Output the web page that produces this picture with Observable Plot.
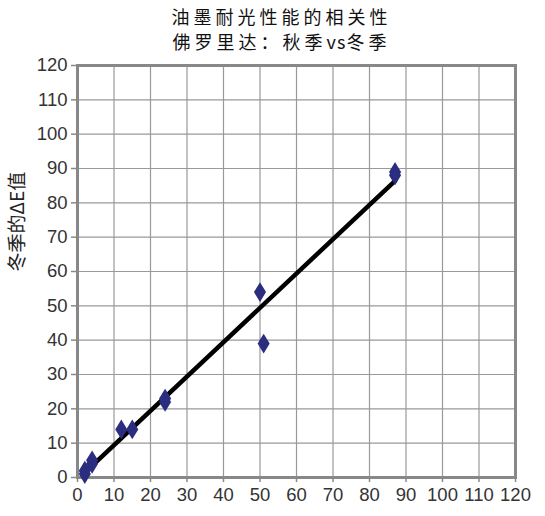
<!DOCTYPE html>
<html>
<head>
<meta charset="utf-8">
<script src="https://cdn.jsdelivr.net/npm/d3@7"></script>
<script src="https://cdn.jsdelivr.net/npm/@observablehq/plot@0.6"></script>
<style>
  body { margin: 0; background: #fff; font-family: "Liberation Sans", "Noto Sans CJK SC", sans-serif; }
  #title { width: 545px; box-sizing: border-box; padding-left: 18px; padding-top: 4px; height: 55px;
           text-align: center; font-size: 18px; line-height: 25px; letter-spacing: 4px; color: #111;
           font-family: "Noto Sans CJK SC", "Liberation Sans", sans-serif; }
  #title div { height: 25px; }
  #title .lat { letter-spacing: 1px; }
</style>
</head>
<body>
<div id="title"></div>
<div id="chart"></div>
<script>
const titleLines = ["油墨耐光性能的相关性", "佛罗里达：秋季vs冬季"];
const yLabel = "冬季的ΔE值";
const autumnX = [2, 2, 4, 4, 12, 15, 24, 24, 50, 51, 87, 87];
const winterY = [1, 2, 4, 5, 14, 14, 22, 23, 54, 39, 88, 89];
const tickValues = [0, 10, 20, 30, 40, 50, 60, 70, 80, 90, 100, 110, 120];

const titleEl = document.getElementById("title");
titleLines.forEach(t => {
  const d = document.createElement("div");
  // keep latin runs (e.g. "vs") tighter than CJK characters
  t.split(/([A-Za-z]+)/).forEach(part => {
    if (!part) return;
    if (/^[A-Za-z]+$/.test(part)) {
      const s = document.createElement("span"); s.className = "lat"; s.textContent = part; d.appendChild(s);
    } else d.appendChild(document.createTextNode(part));
  });
  titleEl.appendChild(d);
});

const data = autumnX.map((x, i) => ({x, y: winterY[i]}));

const tallDiamond = {
  draw(ctx, size) {
    const r = Math.sqrt(size);
    const w = r * 0.55, h = r * 0.9;
    ctx.moveTo(0, -h);
    ctx.lineTo(w, 0);
    ctx.lineTo(0, h);
    ctx.lineTo(-w, 0);
    ctx.closePath();
  }
};

const chart = Plot.plot({
  width: 545,
  height: 461,
  marginTop: 10,
  marginBottom: 39,
  marginLeft: 77,
  marginRight: 30,
  style: {fontFamily: "Liberation Sans, Noto Sans CJK SC, sans-serif", fontSize: "18px", color: "#333", background: "#fff"},
  x: {domain: [0, 120], ticks: tickValues, label: null},
  y: {domain: [0, 120], ticks: tickValues, label: null},
  marks: [
    Plot.gridX(tickValues, {stroke: "#999", strokeOpacity: 1, strokeWidth: 1.2}),
    Plot.gridY(tickValues, {stroke: "#999", strokeOpacity: 1, strokeWidth: 1.2}),
    Plot.frame({stroke: "#888", strokeWidth: 3}),
    Plot.axisX({ticks: tickValues, tickSize: 5, tickPadding: 5, stroke: "#888", strokeWidth: 1.5, label: null, fontSize: 18.5}),
    Plot.axisY({ticks: tickValues, tickSize: 6, tickPadding: 4, stroke: "#888", strokeWidth: 1.5, label: null, fontSize: 18.5}),
    Plot.text([yLabel], {frameAnchor: "left", dx: -60, rotate: -90, fontSize: 19, fill: "#222",
      fontFamily: "Noto Sans CJK SC, Liberation Sans, sans-serif"}),
    Plot.linearRegressionY(data, {x: "x", y: "y", stroke: "#000", strokeWidth: 4.5, ci: 0}),
    Plot.dot(data, {x: "x", y: "y", symbol: tallDiamond, r: 6.2, fill: "#2b2d7e", stroke: "none"})
  ]
});
document.getElementById("chart").appendChild(chart);
</script>
</body>
</html>
